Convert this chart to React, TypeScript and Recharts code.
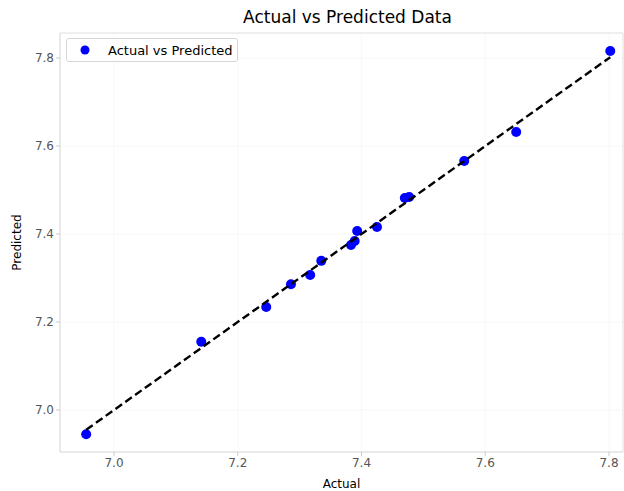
import React from "react";
import {
  ScatterChart,
  Scatter,
  XAxis,
  YAxis,
  CartesianGrid,
  ReferenceArea,
} from "recharts";

const actual = [
  6.955, 7.141, 7.246, 7.286, 7.317, 7.335, 7.383, 7.389, 7.393, 7.425,
  7.47, 7.477, 7.566, 7.65, 7.802,
];
const predicted = [
  6.945, 7.155, 7.234, 7.286, 7.307, 7.339, 7.375, 7.384, 7.407, 7.416,
  7.482, 7.484, 7.566, 7.632, 7.816,
];
const xTicks = [7.0, 7.2, 7.4, 7.6, 7.8];
const yTicks = [7.0, 7.2, 7.4, 7.6, 7.8];

const points = actual.map((a, i) => ({ x: a, y: predicted[i] }));
const lo = Math.min(...actual);
const hi = Math.max(...actual);
const idealLine = [
  { x: lo, y: lo },
  { x: hi, y: hi },
];

const X_DOMAIN: [number, number] = [6.9127, 7.8226];
const Y_DOMAIN: [number, number] = [6.9045, 7.857];
const FONT = "'DejaVu Sans', sans-serif";
const tickStyle = { fill: "#555555", fontSize: 12, fontFamily: FONT };

function LegendBox() {
  return (
    <div
      style={{
        position: "absolute",
        top: 38,
        left: 66,
        display: "flex",
        alignItems: "center",
        border: "1px solid #d6d6d6",
        borderRadius: 3,
        background: "rgba(255,255,255,0.8)",
        padding: "2px 5px 2px 12px",
        height: 18,
        fontFamily: FONT,
        fontSize: 13,
        color: "#000",
      }}
    >
      <svg width={12} height={12} style={{ marginRight: 17 }}>
        <circle cx={6} cy={6} r={4.5} fill="#0000ff" />
      </svg>
      <span>Actual vs Predicted</span>
    </div>
  );
}

export default function App() {
  return (
    <div style={{ position: "absolute", left: 0, top: 0, width: 624, height: 491, background: "#fff" }}>
      <ScatterChart
        width={624}
        height={491}
        margin={{ top: 33, right: 1, bottom: 0, left: 0 }}
      >
        <CartesianGrid stroke="#f2f2f2" strokeDasharray="1 1" />
        <XAxis
          type="number"
          dataKey="x"
          domain={X_DOMAIN}
          ticks={xTicks}
          allowDataOverflow
          tickFormatter={(v: number) => v.toFixed(1)}
          tick={tickStyle}
          tickSize={4}
          tickLine={{ stroke: "#cccccc" }}
          axisLine={{ stroke: "#e3e3e3" }}
          height={39}
          label={{
            value: "Actual",
            position: "insideBottom",
            offset: 3,
            fill: "#000",
            fontSize: 12,
            fontFamily: FONT,
          }}
        />
        <YAxis
          type="number"
          dataKey="y"
          domain={Y_DOMAIN}
          ticks={yTicks}
          allowDataOverflow
          tickFormatter={(v: number) => v.toFixed(1)}
          tick={tickStyle}
          tickSize={4}
          tickLine={{ stroke: "#cccccc" }}
          axisLine={{ stroke: "#e3e3e3" }}
          width={60}
          label={{
            value: "Predicted",
            angle: -90,
            position: "insideLeft",
            offset: 17,
            fill: "#000",
            fontSize: 12,
            fontFamily: FONT,
            style: { textAnchor: "middle" },
          }}
        />
        <ReferenceArea
          x1={X_DOMAIN[0]}
          x2={X_DOMAIN[1]}
          y1={Y_DOMAIN[0]}
          y2={Y_DOMAIN[1]}
          fill="none"
          stroke="#e3e3e3"
        />
        <Scatter
          name="Actual vs Predicted"
          data={points}
          fill="#0000ff"
          shape={(p: any) => <circle cx={p.cx} cy={p.cy} r={5} fill="#0000ff" />}
          isAnimationActive={false}
        />
        <Scatter
          name="Ideal"
          data={idealLine}
          line={{ stroke: "#000", strokeWidth: 2.4, strokeDasharray: "8 4" }}
          shape={() => null}
          legendType="none"
          isAnimationActive={false}
        />
      </ScatterChart>
      <div
        style={{
          position: "absolute",
          top: 7,
          left: 66,
          width: 563,
          textAlign: "center",
          fontFamily: FONT,
          fontSize: 17,
          color: "#000",
        }}
      >
        Actual vs Predicted Data
      </div>
      <LegendBox />
    </div>
  );
}
